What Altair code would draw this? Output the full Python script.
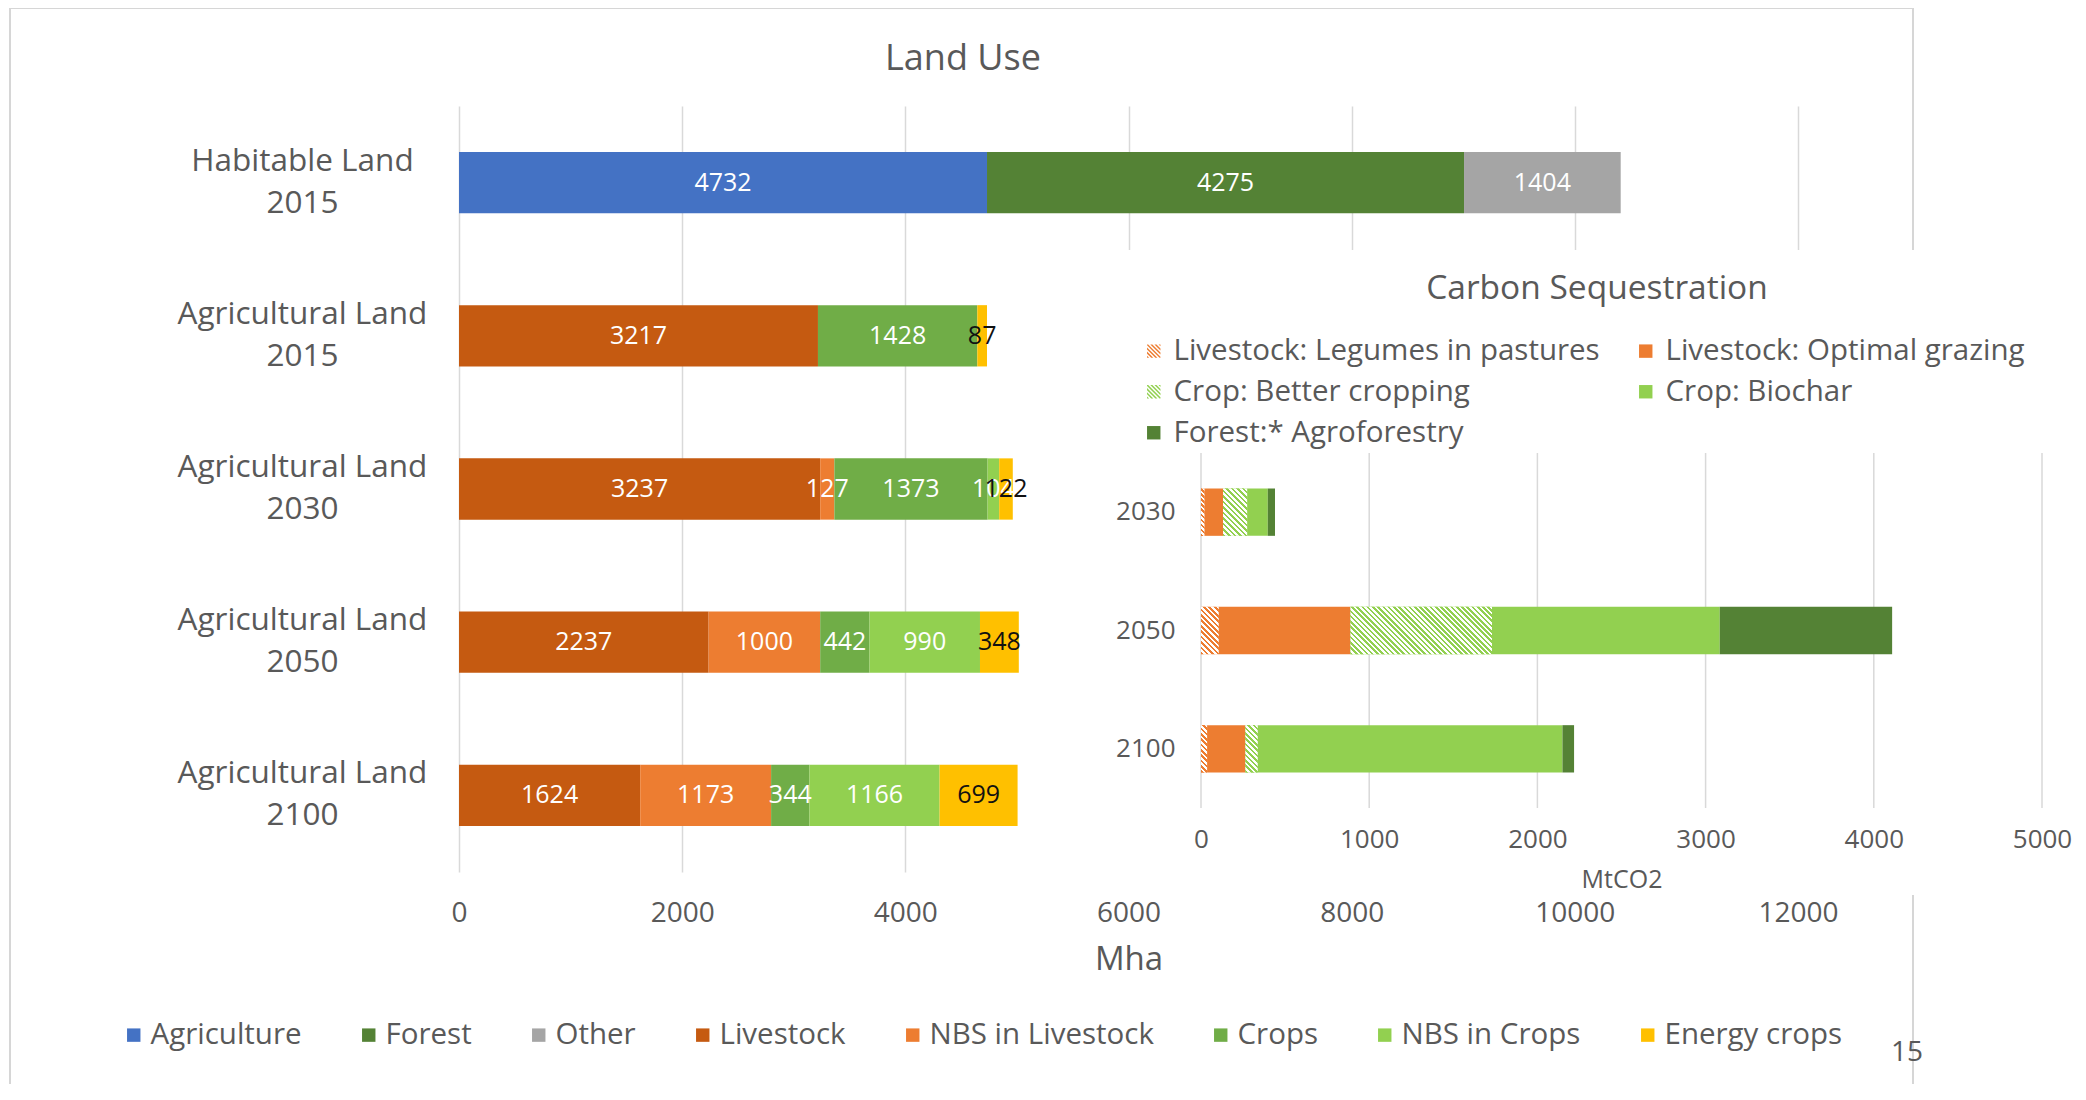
import altair as alt
import pandas as pd

# ---------------- data: Land Use (Mha) ----------------
main_categories = ["Habitable Land 2015", "Agricultural Land 2015", "Agricultural Land 2030",
                   "Agricultural Land 2050", "Agricultural Land 2100"]
main_series = ["Agriculture", "Forest", "Other", "Livestock", "NBS in Livestock",
               "Crops", "NBS in Crops", "Energy crops"]
agriculture = [4732, None, None, None, None]
forest = [4275, None, None, None, None]
other = [1404, None, None, None, None]
livestock = [None, 3217, 3237, 2237, 1624]
nbs_livestock = [None, None, 127, 1000, 1173]
crops = [None, 1428, 1373, 442, 344]
nbs_crops = [None, None, 104, 990, 1166]
energy_crops = [None, 87, 122, 348, 699]
main_ticks = [0, 2000, 4000, 6000, 8000, 10000, 12000]

# ---------------- data: Carbon Sequestration (MtCO2) ----------------
inset_years = ["2030", "2050", "2100"]
inset_series = ["Livestock: Legumes in pastures", "Livestock: Optimal grazing",
                "Crop: Better cropping", "Crop: Biochar", "Forest:* Agroforestry"]
legumes = [20, 105, 36]
grazing = [111, 784, 228]
better_cropping = [143, 841, 73]
biochar = [123, 1354, 1812]
agroforestry = [43, 1025, 69]
inset_ticks = [0, 1000, 2000, 3000, 4000, 5000]

# ---------------- styles ----------------
FONT = "Open Sans"
GRAY = "#595959"
GRID = "#D9D9D9"
main_colors = ["#4472C4", "#548235", "#A5A5A5", "#C55A11", "#ED7D31",
               "#70AD47", "#92D050", "#FFC000"]
inset_colors = ["#ED7D31", "#ED7D31", "#92D050", "#92D050", "#548235"]
hatch_colors = {"Livestock: Legumes in pastures": "#ED7D31", "Crop: Better cropping": "#92D050"}

W, H = 1339, 766                 # main plot area
INSET_X_RANGE = [742, 1583]      # inset plot area inside main group coords
INSET_Y_RANGE = [347, 702]

# ---------------- tables ----------------
rows = []
main_values = [agriculture, forest, other, livestock, nbs_livestock, crops, nbs_crops, energy_crops]
for ci, cat in enumerate(main_categories):
    cum = 0
    for name, vals in zip(main_series, main_values):
        v = vals[ci]
        if v is None:
            continue
        rows.append(dict(category=cat, series=name, value=v, start=cum, end=cum + v, mid=cum + v / 2))
        cum += v
main_df = pd.DataFrame(rows)

rows = []
inset_values = [legumes, grazing, better_cropping, biochar, agroforestry]
for yi, yr in enumerate(inset_years):
    cum = 0
    for name, vals in zip(inset_series, inset_values):
        v = vals[yi]
        rows.append(dict(year=yr, series=name, value=v, start=cum, end=cum + v))
        cum += v
inset_df = pd.DataFrame(rows)

one = pd.DataFrame({"k": [0]})


# ---------------- striped legend symbol (unit square path) ----------------
def _clip(poly, a, b, c):
    """keep part of polygon with a*x + b*y <= c"""
    out = []
    n = len(poly)
    for i in range(n):
        p, q = poly[i], poly[(i + 1) % n]
        fp, fq = a * p[0] + b * p[1] - c, a * q[0] + b * q[1] - c
        if fp <= 0:
            out.append(p)
        if (fp < 0 < fq) or (fq < 0 < fp):
            t = fp / (fp - fq)
            out.append((p[0] + t * (q[0] - p[0]), p[1] + t * (q[1] - p[1])))
    return out


def stripe_path(period=0.62):
    square = [(-1, -1), (1, -1), (1, 1), (-1, 1)]
    parts = []
    c0 = -2.0
    while c0 < 2.0:
        poly = _clip(square, -1, 1, -c0)                   # x - y >= c0
        poly = _clip(poly, 1, -1, c0 + period / 2)         # x - y <= c0 + period/2
        if len(poly) >= 3:
            parts.append("M" + "L".join(f"{x:.3f},{y:.3f}" for x, y in poly) + "Z")
        c0 += period
    return "".join(parts)


STRIPES = stripe_path()
symbol_expr = ("(datum.value == 'Livestock: Legumes in pastures' || datum.value == 'Crop: Better cropping')"
               f" ? '{STRIPES}' : 'square'")

# ---------------- main chart ----------------
main_x_scale = alt.Scale(domain=[0, 12000], nice=False, zero=True)
main_x_axis = alt.Axis(values=main_ticks, format="d", grid=True, gridColor=GRID, gridWidth=1.5,
                       domain=False, ticks=False, labelFontSize=28, labelFont=FONT, labelColor=GRAY,
                       labelPadding=27, labelFlush=False, labelOverlap=False,
                       title="Mha", titleFontSize=33, titleFont=FONT, titleColor=GRAY,
                       titleFontWeight="normal", titlePadding=16, zindex=0)
main_y = alt.Y("category:N", sort=main_categories,
               scale=alt.Scale(domain=main_categories, paddingInner=0.6, paddingOuter=0.3),
               axis=alt.Axis(title=None, domain=False, ticks=False, tickSize=0,
                             labelFontSize=31.5, labelFont=FONT, labelColor=GRAY,
                             labelAlign="center", labelBaseline="middle", labelPadding=157,
                             labelLineHeight=42, labelLimit=600, labelOffset=-21,
                             labelExpr="[slice(datum.label, 0, lastindexof(datum.label, ' ')), "
                                       "slice(datum.label, lastindexof(datum.label, ' ') + 1)]"))

frame = alt.Chart(one).mark_rect(filled=False, stroke="#D6D6D6", strokeWidth=2).encode(
    x=alt.value(-449), x2=alt.value(1454), y=alt.value(-98), y2=alt.value(1200))

main_bars = alt.Chart(main_df).mark_bar().encode(
    x=alt.X("start:Q", scale=main_x_scale, axis=main_x_axis),
    x2="end:Q",
    y=main_y,
    color=alt.Color("series:N", scale=alt.Scale(domain=main_series, range=main_colors),
                    legend=alt.Legend(orient="none", legendX=-340, legendY=914,
                                      direction="horizontal", columns=8, title=None,
                                      symbolType="square", symbolSize=180, symbolStrokeWidth=0,
                                      labelFontSize=29.5, labelFont=FONT, labelColor=GRAY,
                                      labelOffset=2, columnPadding=52, padding=0, labelLimit=400)),
)

main_labels = alt.Chart(main_df).mark_text(font=FONT, fontSize=25, align="center",
                                           baseline="middle").encode(
    x=alt.X("mid:Q", scale=main_x_scale, axis=main_x_axis),
    y=main_y,
    text=alt.Text("value:Q", format="d"),
    color=alt.condition(alt.datum.series == "Energy crops", alt.value("#111111"), alt.value("#FFFFFF")),
)

main_title = alt.Chart(one).mark_text(text="Land Use", font=FONT, fontSize=36, color=GRAY,
                                      align="center", baseline="middle").encode(
    x=alt.value(504), y=alt.value(-47))

page_num = alt.Chart(one).mark_text(text="15", font=FONT, fontSize=28, color=GRAY,
                                    align="center", baseline="middle").encode(
    x=alt.value(1448), y=alt.value(947))

main_layer = alt.layer(frame, main_bars, main_labels, main_title, page_num)

# ---------------- inset chart ----------------
inset_x_scale = alt.Scale(domain=[0, 5000], range=INSET_X_RANGE, nice=False, zero=True)
inset_x_axis = alt.Axis(orient="bottom", offset=INSET_Y_RANGE[1] - H, values=inset_ticks, format="d",
                        grid=False, domain=False, ticks=False, labelFontSize=26, labelFont=FONT,
                        labelColor=GRAY, labelPadding=18, labelFlush=False, labelOverlap=False,
                        title="MtCO2", titleFontSize=25, titleFont=FONT, titleColor=GRAY,
                        titleFontWeight="normal", titlePadding=15, zindex=1)
inset_y = alt.Y("year:N", sort=inset_years,
                scale=alt.Scale(domain=inset_years, range=INSET_Y_RANGE, paddingInner=0.6, paddingOuter=0.3),
                axis=alt.Axis(orient="left", offset=-INSET_X_RANGE[0], title=None, domain=False,
                              ticks=False, tickSize=0, labelFontSize=26, labelFont=FONT,
                              labelColor=GRAY, labelPadding=26, zindex=1))

inset_bg = alt.Chart(one).mark_rect(fill="#FFFFFF").encode(
    x=alt.value(651), x2=alt.value(1700), y=alt.value(144), y2=alt.value(789))

inset_title = alt.Chart(one).mark_text(text="Carbon Sequestration", font=FONT, fontSize=33.5,
                                       color=GRAY, align="center", baseline="middle").encode(
    x=alt.value(1138), y=alt.value(183))

inset_grid = alt.Chart(pd.DataFrame({"start": inset_ticks})).mark_rule(
    color=GRID, strokeWidth=1.5).encode(
    x=alt.X("start:Q", scale=inset_x_scale, axis=inset_x_axis),
    y=alt.value(INSET_Y_RANGE[0]), y2=alt.value(INSET_Y_RANGE[1]))

inset_bars = alt.Chart(inset_df).mark_bar().encode(
    x=alt.X("start:Q", scale=inset_x_scale, axis=inset_x_axis),
    x2="end:Q",
    y=inset_y,
    color=alt.Color("series:N", scale=alt.Scale(domain=inset_series, range=inset_colors),
                    legend=alt.Legend(orient="none", legendX=680, legendY=230,
                                      direction="horizontal", columns=2, title=None,
                                      symbolType=alt.ExprRef(expr=symbol_expr),
                                      symbolSize=180, symbolStrokeWidth=0,
                                      labelFontSize=29.5, labelFont=FONT, labelColor=GRAY,
                                      labelOffset=5, columnPadding=31, rowPadding=10,
                                      padding=0, labelLimit=600)),
)

# hatched (striped) segments drawn over the base bars
px_per_unit = (INSET_X_RANGE[1] - INSET_X_RANGE[0]) / 5000.0
step = (INSET_Y_RANGE[1] - INSET_Y_RANGE[0]) / (len(inset_years) - 0.6 + 0.6)
bar_h = 0.4 * step


def hatch(width, height, color, period=5.3):
    width = max(width, 0.5)
    lam = (width + height) / (width ** 2 + height ** 2)
    n = max(1, int(round((width + height) / period)))
    stops = []
    for i in range(n):
        a, b, c = i / n, (i + 0.5) / n, (i + 1) / n
        stops += [alt.GradientStop(offset=a, color=color), alt.GradientStop(offset=b, color=color),
                  alt.GradientStop(offset=b, color="#FFFFFF"), alt.GradientStop(offset=c, color="#FFFFFF")]
    return alt.LinearGradient(gradient="linear", stops=stops, x1=0, y1=1,
                              x2=lam * width, y2=1 - lam * height)


hatch_layers = []
for _, r in inset_df[inset_df["series"].isin(list(hatch_colors))].iterrows():
    sub = inset_df[(inset_df["year"] == r["year"]) & (inset_df["series"] == r["series"])]
    grad = hatch(r["value"] * px_per_unit, bar_h, hatch_colors[r["series"]])
    hatch_layers.append(
        alt.Chart(sub).mark_bar(color=grad).encode(
            x=alt.X("start:Q", scale=inset_x_scale, axis=inset_x_axis),
            x2="end:Q",
            y=inset_y,
        )
    )

inset_layer = alt.layer(inset_bg, inset_title, inset_grid, inset_bars, *hatch_layers)

chart = alt.layer(main_layer, inset_layer).resolve_scale(
    x="independent", y="independent", color="independent"
).properties(
    width=W, height=H,
    autosize=alt.AutoSizeParams(type="none"),
    padding={"left": 451, "top": 98, "right": 276, "bottom": 212},
).configure_view(stroke=None)

chart.save("out.html", embed_options={"renderer": "svg", "actions": False})
